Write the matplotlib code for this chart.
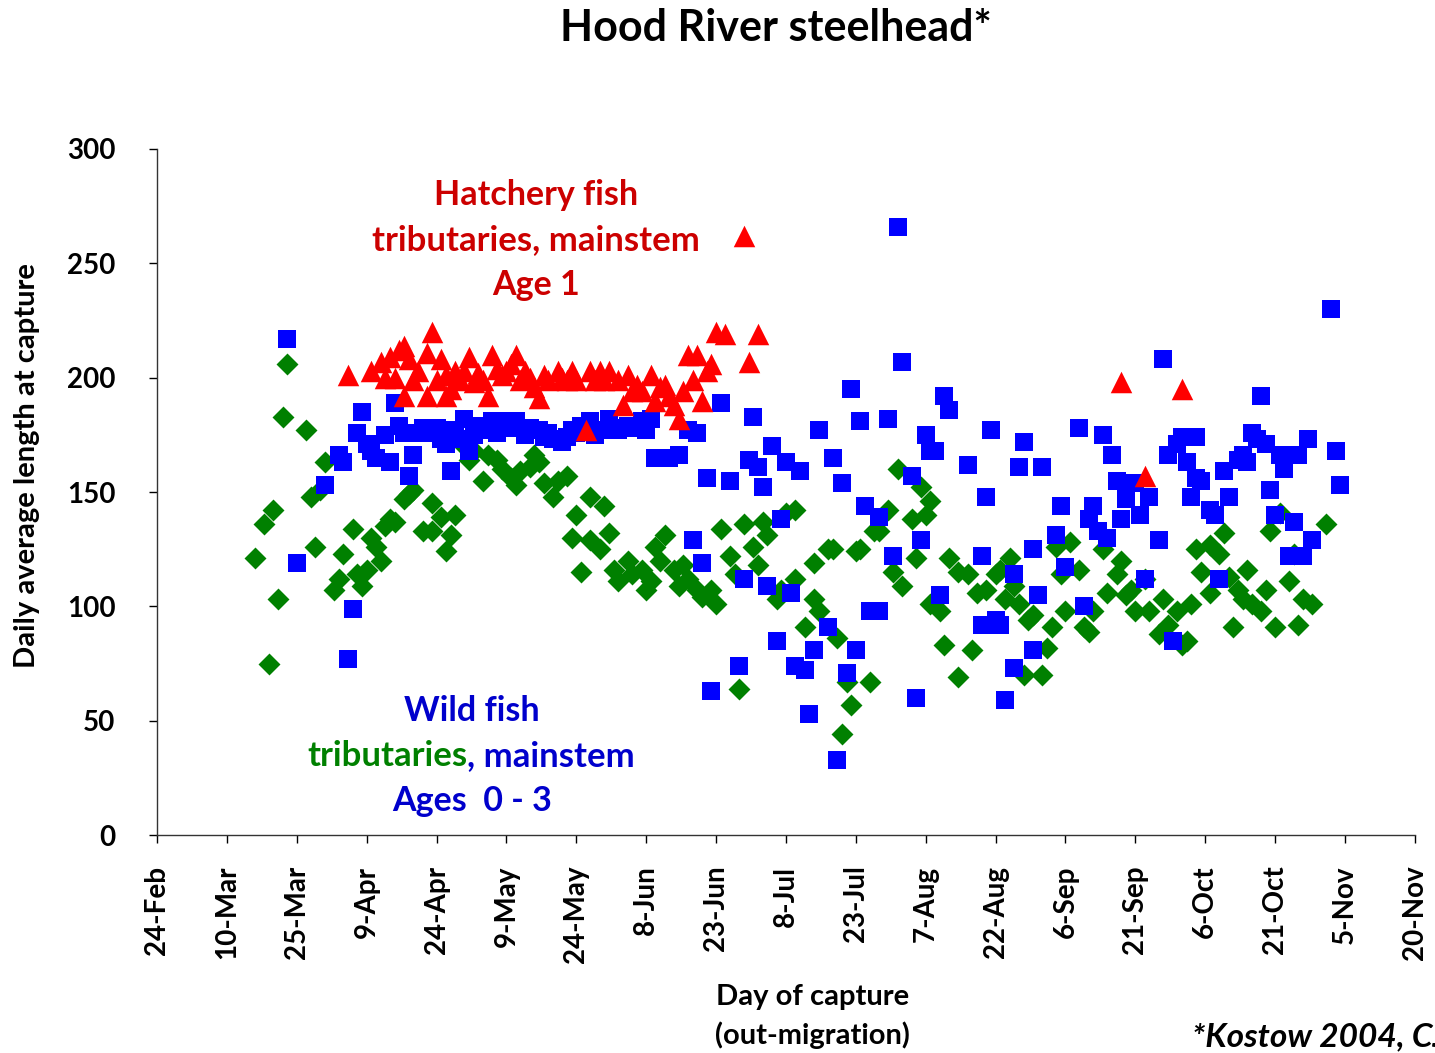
import numpy as np
import matplotlib
matplotlib.use('Agg')
import matplotlib.pyplot as plt

plt.rcParams['font.family'] = ['Lato', 'DejaVu Sans']
plt.rcParams['font.weight'] = 'bold'

# eje x: dias desde el 24-Feb, marcas cada 15 dias
tick_days = np.arange(0, 271, 15)
tick_labels = ['24-Feb', '10-Mar', '25-Mar', '9-Apr', '24-Apr', '9-May', '24-May',
               '8-Jun', '23-Jun', '8-Jul', '23-Jul', '7-Aug', '22-Aug', '6-Sep',
               '21-Sep', '6-Oct', '21-Oct', '5-Nov', '20-Nov']

# peces silvestres, tributarios (dia, longitud media mm)
trib_day = [21, 23, 24, 25, 26, 27, 28, 32, 33, 34, 35, 36, 38, 39, 40, 42, 43, 44, 45, 46,
            47, 48, 49, 50, 51, 53, 54, 55, 57, 59, 59, 61, 62, 63, 64, 66, 67, 68, 70, 71,
            73, 74, 76, 77, 78, 80, 81, 82, 83, 85, 86, 88, 89, 90, 91, 93, 93, 95, 96, 97,
            98, 99, 101, 102, 104, 105, 106, 107, 108, 109, 111, 112, 113, 114, 116, 117, 119, 120, 121, 123,
            124, 125, 126, 128, 129, 130, 131, 133, 134, 135, 137, 137, 139, 141, 141, 142, 144, 145, 146, 147,
            148, 149, 150, 151, 153, 154, 155, 157, 158, 159, 160, 162, 163, 164, 165, 166, 166, 168, 169, 170,
            172, 172, 174, 175, 176, 178, 180, 181, 182, 183, 184, 185, 186, 187, 188, 190, 191, 192, 193, 194,
            195, 196, 198, 199, 200, 201, 203, 204, 206, 207, 208, 209, 210, 212, 213, 215, 216, 217, 219, 220,
            221, 222, 223, 224, 226, 226, 228, 229, 230, 231, 232, 233, 234, 235, 237, 238, 239, 240, 241, 243,
            244, 245, 246, 248, 251]
trib_len = [121, 136, 75, 142, 103, 183, 206, 177, 148, 126, 151, 163, 107, 112, 123, 134, 114, 109, 116, 130,
            126, 120, 135, 138, 137, 147, 149, 151, 133, 145, 133, 139, 124, 131, 140, 170, 164, 168, 155, 166,
            164, 160, 156, 153, 159, 161, 166, 163, 154, 148, 155, 157, 130, 140, 115, 148, 129, 125, 144, 132,
            116, 111, 120, 114, 116, 107, 111, 126, 120, 131, 116, 109, 118, 112, 107, 104, 107, 101, 134, 122,
            114, 64, 136, 126, 118, 137, 131, 103, 107, 141, 142, 112, 91, 103, 119, 98, 125, 125, 86, 44,
            67, 57, 124, 125, 67, 133, 133, 142, 115, 160, 109, 138, 121, 152, 140, 146, 101, 98, 83, 121,
            69, 115, 114, 81, 106, 107, 114, 116, 103, 121, 109, 101, 70, 94, 96, 70, 82, 91, 126, 114,
            98, 128, 116, 91, 89, 98, 125, 106, 114, 120, 105, 107, 98, 112, 98, 88, 103, 92, 98, 83,
            85, 101, 125, 115, 106, 127, 123, 132, 113, 91, 107, 103, 116, 101, 98, 107, 133, 91, 141, 111,
            123, 92, 103, 101, 136]

# peces silvestres, cauce principal
main_day = [28, 30, 36, 39, 40, 41, 42, 43, 44, 45, 46, 47, 49, 50, 51, 52, 53, 54, 55, 56,
            57, 59, 60, 61, 62, 63, 64, 65, 66, 67, 68, 69, 71, 72, 73, 74, 75, 77, 78, 79,
            80, 82, 83, 84, 85, 87, 88, 89, 90, 91, 93, 94, 95, 97, 98, 99, 101, 102, 104, 105,
            106, 107, 108, 110, 112, 114, 115, 116, 117, 118, 119, 121, 123, 125, 126, 127, 128, 129, 130, 131,
            132, 133, 134, 135, 136, 137, 138, 139, 140, 141, 142, 144, 145, 146, 147, 148, 149, 150, 151, 152,
            153, 155, 155, 157, 158, 159, 160, 162, 163, 164, 165, 166, 167, 168, 169, 170, 174, 177, 177, 178,
            179, 180, 181, 182, 184, 184, 185, 186, 188, 188, 189, 190, 193, 194, 195, 198, 199, 200, 201, 202,
            203, 204, 205, 206, 207, 208, 210, 211, 212, 213, 215, 216, 217, 218, 219, 220, 221, 222, 223, 223,
            224, 226, 227, 228, 229, 230, 232, 233, 234, 235, 236, 237, 238, 239, 240, 241, 242, 243, 244, 245,
            246, 247, 248, 252, 253, 254]
main_len = [217, 119, 153, 166, 163, 77, 99, 176, 185, 171, 168, 165, 175, 163, 189, 179, 176, 157, 166, 176,
            178, 176, 178, 173, 171, 159, 177, 173, 182, 168, 175, 179, 177, 181, 176, 181, 178, 181, 178, 175,
            178, 177, 174, 176, 173, 172, 174, 177, 176, 179, 181, 175, 177, 182, 178, 177, 179, 178, 181, 177,
            182, 165, 165, 165, 166, 177, 129, 176, 119, 156, 63, 189, 155, 74, 112, 164, 183, 161, 152, 109,
            170, 85, 138, 163, 106, 74, 159, 72, 53, 81, 177, 91, 165, 33, 154, 71, 195, 81, 181, 144,
            98, 139, 98, 182, 122, 266, 207, 157, 60, 129, 175, 168, 168, 105, 192, 186, 162, 92, 122, 148,
            177, 94, 92, 59, 73, 114, 161, 172, 125, 81, 105, 161, 131, 144, 117, 178, 100, 138, 144, 133,
            175, 130, 166, 155, 138, 147, 154, 140, 112, 148, 129, 208, 166, 85, 171, 174, 163, 148, 174, 156,
            155, 142, 140, 112, 159, 148, 164, 166, 163, 176, 173, 192, 171, 151, 140, 166, 160, 122, 137, 166,
            122, 173, 129, 230, 168, 153]

# peces de criadero, edad 1
hatch_day = [41, 46, 48, 49, 50, 51, 52, 53, 53, 54, 55, 56, 58, 58, 59, 60, 61, 62, 62, 63,
             64, 65, 66, 67, 68, 69, 70, 71, 72, 73, 74, 75, 76, 77, 78, 79, 80, 81, 82, 83,
             84, 86, 87, 88, 89, 90, 92, 93, 94, 95, 96, 97, 99, 100, 101, 102, 103, 104, 106, 107,
             108, 109, 110, 111, 112, 113, 114, 115, 116, 117, 118, 119, 120, 122, 126, 127, 129, 207, 212, 220]
hatch_len = [201, 203, 207, 200, 209, 200, 212, 214, 192, 208, 199, 203, 211, 192, 220, 199, 208, 192, 201, 195,
             203, 199, 203, 209, 198, 202, 199, 192, 210, 204, 201, 203, 206, 210, 199, 203, 200, 196, 191, 201,
             199, 203, 200, 199, 203, 199, 177, 203, 199, 203, 199, 203, 199, 188, 201, 194, 197, 194, 201, 190,
             196, 197, 192, 188, 182, 194, 210, 199, 210, 190, 203, 206, 220, 219, 262, 207, 219, 198, 157, 195]

fig = plt.figure(figsize=(14.35, 10.53), dpi=100)
ax = fig.add_axes([0.1094, 0.207, 0.8766, 0.6515])

ax.scatter(trib_day, trib_len, marker='D', s=125, color='#008000', linewidths=0, zorder=2)
ax.scatter(main_day, main_len, marker='s', s=165, color='#0000FF', linewidths=0, zorder=3)
ax.scatter(hatch_day, hatch_len, marker='^', s=240, color='#FF0000', linewidths=0, zorder=4)

ax.set_xlim(0, 270)
ax.set_ylim(0, 300)
ax.set_xticks(tick_days)
ax.set_xticklabels(tick_labels, rotation=90, fontsize=20, fontweight='bold')
ax.set_yticks(np.arange(0, 301, 50))
ax.set_yticklabels([str(v) for v in range(0, 301, 50)], fontsize=20, fontweight='bold')
ax.tick_params(axis='y', length=6, width=1, pad=24, colors='black')
ax.tick_params(axis='x', length=6, width=1, pad=16, colors='black')
for side in ['top', 'right']:
    ax.spines[side].set_visible(False)
for side in ['left', 'bottom']:
    ax.spines[side].set_color('#333333')
    ax.spines[side].set_linewidth(1)

fig.text(0.5405, 0.973, 'Hood River steelhead*', ha='center', va='center',
         fontsize=31, fontweight='bold')
fig.text(0.019, 0.558, 'Daily average length at capture', rotation=90,
         ha='center', va='center', fontsize=21, fontweight='bold')
fig.text(0.566, 0.053, 'Day of capture', ha='center', va='center', fontsize=21, fontweight='bold')
fig.text(0.566, 0.017, '(out-migration)', ha='center', va='center', fontsize=21, fontweight='bold')
fig.text(0.831, 0.015, '*Kostow 2004, CJFAS', ha='left', va='center', fontsize=24,
         fontweight='bold', style='italic')

# etiquetas de los grupos
red_txt = '#CC0000'
blue_txt = '#0000CC'
green_txt = '#008000'
fig.text(0.3735, 0.815, 'Hatchery fish', ha='center', va='center', fontsize=24.5, fontweight='bold', color=red_txt)
fig.text(0.3735, 0.772, 'tributaries, mainstem', ha='center', va='center', fontsize=25, fontweight='bold', color=red_txt)
fig.text(0.3735, 0.729, 'Age 1', ha='center', va='center', fontsize=24.5, fontweight='bold', color=red_txt)
fig.text(0.329, 0.325, 'Wild fish', ha='center', va='center', fontsize=24.5, fontweight='bold', color=blue_txt)
fig.text(0.3255, 0.282, 'tributaries', ha='right', va='center', fontsize=25, fontweight='bold', color=green_txt)
fig.text(0.3255, 0.282, ', mainstem', ha='left', va='center', fontsize=25, fontweight='bold', color=blue_txt)
fig.text(0.329, 0.239, 'Ages  0 - 3', ha='center', va='center', fontsize=24.5, fontweight='bold', color=blue_txt)

fig.savefig('out.png', dpi=100)
